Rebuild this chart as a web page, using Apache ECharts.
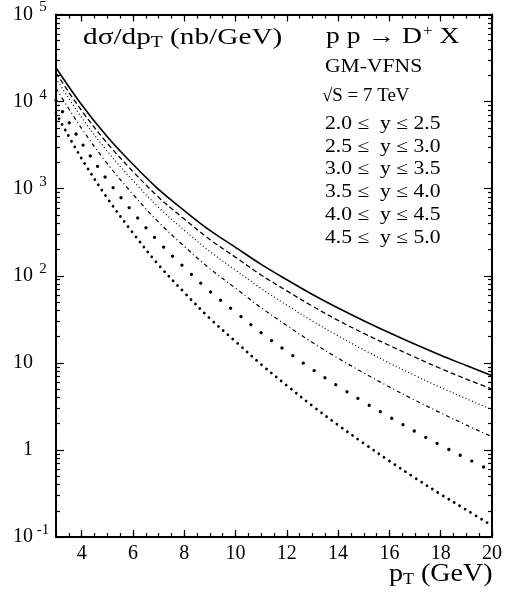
<head>
  <meta charset="UTF-8">
  <title>D+ pT spectrum</title>
  <script src="https://cdn.jsdelivr.net/npm/echarts@6/dist/echarts.min.js" type="text/javascript" charset="utf-8"></script>
</head>

<body style="margin:0">
  <div id="chart" style="width: 512px;height:598px;"></div>
  <script type="text/javascript">
    // pT values (GeV)
    const pT = [3, 4, 5, 6, 7, 8, 9, 10, 11, 12, 13, 14, 15, 16, 17, 18, 19, 20];
    // dsigma/dpT (nb/GeV), one array per rapidity bin
    const y20_25 = [24500, 9200, 3950, 1905, 980, 560, 332, 212, 135, 90, 61, 42.6, 30.4, 22.1, 16.3, 12.2, 9.3, 7.1];
    const y25_30 = [21300, 7870, 3320, 1575, 797, 448, 261, 163, 102, 67, 44.7, 30.7, 21.8, 15.8, 11.6, 8.6, 6.5, 5.0];
    const y30_35 = [18375, 6560, 2686, 1236, 609, 333, 190, 116, 71.3, 45.9, 30.1, 20.4, 14.1, 9.95, 7.14, 5.21, 3.87, 2.89];
    const y35_40 = [14210, 4904, 1939, 863, 412, 218, 120.5, 71.9, 42.9, 26.8, 17.1, 11.3, 7.66, 5.28, 3.72, 2.66, 1.93, 1.42];
    const y40_45 = [10290, 3358, 1260, 536, 245, 124.6, 66.2, 38.2, 22.1, 13.5, 8.39, 5.39, 3.55, 2.39, 1.63, 1.13, 0.80, 0.569];
    const y45_50 = [7350, 2215, 779, 310, 133.5, 64.3, 32.3, 17.6, 9.6, 5.49, 3.2, 1.93, 1.19, 0.747, 0.476, 0.309, 0.205, 0.135];
    const binLabels = ['2.0 ≤  y ≤ 2.5', '2.5 ≤  y ≤ 3.0', '3.0 ≤  y ≤ 3.5', '3.5 ≤  y ≤ 4.0', '4.0 ≤  y ≤ 4.5', '4.5 ≤  y ≤ 5.0'];
    // tick labels
    const xTicks = [4, 6, 8, 10, 12, 14, 16, 18, 20];
    const yTicks = [0.1, 1, 10, 100, 1000, 10000, 100000];

    const serif = '"Liberation Serif", "Times New Roman", serif';

    const xMinor = [];
    for (let v = 3; v <= 20; v += 0.5) xMinor.push(v);
    const yMinor = [];
    for (let d = 0.1; d < 100000; d *= 10) {
      for (let k = 2; k <= 9; k++) yMinor.push(+(d * k).toPrecision(3));
    }

    const myChart = echarts.init(document.getElementById('chart'));

    function xAxisDef(pos, ticks, len, withLabels, withLine) {
      return {
        type: 'value', min: 3, max: 20, position: pos,
        axisLine: { show: withLine, onZero: false, lineStyle: { color: '#000', width: 2 } },
        axisTick: { show: true, inside: true, length: len, customValues: ticks, lineStyle: { color: '#000', width: 1.2 } },
        axisLabel: withLabels ? {
          show: true, customValues: xTicks, margin: 7,
          color: '#000', fontFamily: serif, fontSize: 20
        } : { show: false },
        splitLine: { show: false }
      };
    }
    function yAxisDef(pos, ticks, len, withLabels, withLine) {
      return {
        type: 'log', logBase: 10, min: 0.1, max: 100000, position: pos,
        axisLine: { show: withLine, onZero: false, lineStyle: { color: '#000', width: 2 } },
        axisTick: { show: true, inside: true, length: len, customValues: ticks, lineStyle: { color: '#000', width: 1.2 } },
        axisLabel: withLabels ? {
          show: true, customValues: yTicks, margin: 6,
          formatter: function (v) {
            const e = Math.round(Math.log10(v));
            if (e === 0) return '{b|1}{e| }';
            if (e === 1) return '{b|10}{e| }';
            return '{b|10}{e|' + e + '}';
          },
          rich: {
            b: { fontFamily: serif, fontSize: 20, color: '#000' },
            e: { fontFamily: serif, fontSize: 15, color: '#000', width: 14, align: 'left', padding: [0, 0, 14, 3] }
          }
        } : { show: false },
        splitLine: { show: false }
      };
    }

    const styles = [
      { type: 'solid', width: 1.6, cap: 'butt' },
      { type: [5, 3], width: 1.3, cap: 'butt' },
      { type: [1, 2.5], width: 1.2, cap: 'butt' },
      { type: [4, 3, 1, 3], width: 1.2, cap: 'butt' },
      { type: [0.01, 13], width: 3.2, cap: 'round' },
      { type: [0.01, 6.4], width: 2.8, cap: 'round' }
    ];
    const allSeries = [y20_25, y25_30, y30_35, y35_40, y40_45, y45_50];

    function label(x, y, text, size, sx) {
      return {
        type: 'text', x: x, y: y, scaleX: sx,
        style: { text: text, font: size + 'px ' + serif, fill: '#000', verticalAlign: 'top' }
      };
    }

    const option = {
      animation: false,
      grid: { left: 56, right: 20, top: 13, bottom: 61 },
      xAxis: [
        xAxisDef('bottom', xTicks, 7, true, true),
        xAxisDef('bottom', xMinor, 4, false, false),
        xAxisDef('top', xTicks, 7, false, true),
        xAxisDef('top', xMinor, 4, false, false)
      ],
      yAxis: [
        yAxisDef('left', yTicks, 8, true, true),
        yAxisDef('left', yMinor, 4, false, false),
        yAxisDef('right', yTicks, 8, false, true),
        yAxisDef('right', yMinor, 4, false, false)
      ],
      series: allSeries.map((arr, i) => ({
        name: binLabels[i],
        type: 'line',
        xAxisIndex: 0, yAxisIndex: 0,
        showSymbol: false, symbol: 'none',
        smooth: 0.35,
        lineStyle: Object.assign({ color: '#000' }, styles[i]),
        data: pT.map((x, j) => [x, arr[j]])
      })),
      graphic: [
        {
          type: 'text', x: 83, y: 24, scaleX: 1.22,
          style: {
            text: '{a|dσ/dp}{s|T}{a| (nb/GeV)}', verticalAlign: 'top',
            rich: {
              a: { fontFamily: serif, fontSize: 24, fill: '#000' },
              s: { fontFamily: serif, fontSize: 16, fill: '#000', padding: [11, 0, 0, 0] }
            }
          }
        },
        {
          type: 'text', x: 326, y: 24, scaleX: 1.2,
          style: {
            text: '{a|p p → D}{s|+}{a| X}', verticalAlign: 'top',
            rich: {
              a: { fontFamily: serif, fontSize: 23, fill: '#000' },
              s: { fontFamily: serif, fontSize: 14, fill: '#000', padding: [0, 0, 11, 1] }
            }
          }
        },
        label(325, 58, 'GM-VFNS', 18, 1.2),
        label(322, 87, '√S = 7 TeV', 18, 1.05)
      ].concat(binLabels.map((t, i) => label(325, 115 + i * 22.8, t, 18, 1.2))).concat([
        {
          type: 'text', x: 389, y: 560, scaleX: 1.12,
          style: {
            text: '{a|p}{s|T}{a| (GeV)}', verticalAlign: 'top',
            rich: {
              a: { fontFamily: serif, fontSize: 25, fill: '#000' },
              s: { fontFamily: serif, fontSize: 16, fill: '#000', padding: [12, 0, 0, 0] }
            }
          }
        }
      ])
    };
    myChart.setOption(option);
  </script>
</body>
